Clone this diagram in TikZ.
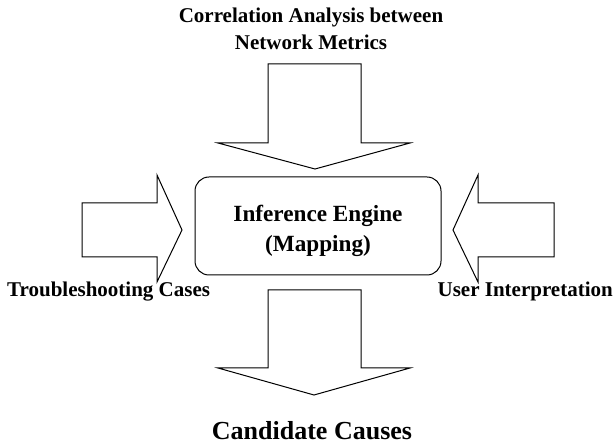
\documentclass[tikz,border=0pt]{standalone}
\usepackage{fontspec}
\setmainfont{Liberation Serif}
\begin{document}
\begin{tikzpicture}[x=1pt,y=-1pt,
  blockarrow/.style={draw=black,line width=1pt,fill=white,line join=miter},
  lbl/.style={font=\bfseries\fontsize{21}{26}\selectfont,inner sep=0pt,anchor=base},
  midlbl/.style={font=\bfseries\fontsize{23.2}{30}\selectfont,inner sep=0pt,anchor=base},
  biglbl/.style={font=\bfseries\fontsize{26}{30}\selectfont,inner sep=0pt,anchor=base},
  engine/.style={draw=black,line width=1pt,rounded corners=14pt,minimum width=246pt,minimum height=98pt,inner sep=0pt}]
\useasboundingbox (0,0) rectangle (614,446);
% top arrow
\draw[blockarrow] (268,64) -- (361,64) -- (361,143) -- (410,143) -- (315,169) -- (218,143) -- (268,143) -- cycle;
% bottom arrow
\draw[blockarrow] (268,290) -- (361,290) -- (361,368) -- (410,368) -- (314,395) -- (218,368) -- (268,368) -- cycle;
% left arrow
\draw[blockarrow] (82,203) -- (157,203) -- (157,175) -- (182,230) -- (157,282) -- (157,257) -- (82,257) -- cycle;
% right arrow
\draw[blockarrow] (554,203) -- (478,203) -- (478,175) -- (453,230) -- (478,282) -- (478,257) -- (554,257) -- cycle;
% engine
\node[engine] (eng) at (318,226) {};
\node[midlbl] (eng1) at (318,222) {Inference Engine};
\node[midlbl] (eng2) at (318,252) {(Mapping)};
\node[lbl] (top1) at (311,23) {Correlation Analysis between};
\node[lbl] (top2) at (311,50) {Network Metrics};
\node[lbl,anchor=base west] (tc) at (7,297) {Troubleshooting Cases};
\node[lbl,anchor=base east] (ui) at (613,297) {User Interpretation};
\node[biglbl] (cc) at (312,440) {Candidate Causes};
\end{tikzpicture}
\end{document}
